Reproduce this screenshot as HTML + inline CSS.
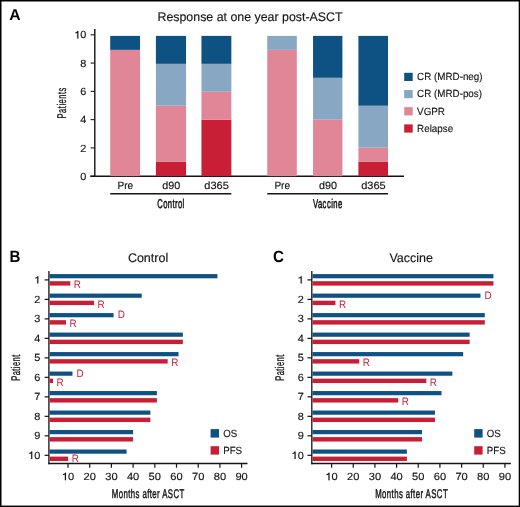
<!DOCTYPE html>
<html><head><meta charset="utf-8"><title>Response</title>
<style>
html,body{margin:0;padding:0;background:#fff;}
body{width:520px;height:507px;overflow:hidden;}
svg{display:block;will-change:transform;}
text{font-family:"Liberation Sans", sans-serif;text-rendering:geometricPrecision;}
</style></head><body>
<svg width="520" height="507" viewBox="0 0 520 507">
<rect x="0.00" y="0.00" width="520.00" height="1.50" fill="#000"/>
<rect x="0.00" y="0.00" width="1.50" height="507.00" fill="#000"/>
<rect x="518.70" y="0.00" width="1.30" height="507.00" fill="#000"/>
<rect x="0.00" y="505.60" width="520.00" height="1.40" fill="#000"/>
<text x="9.3" y="20.2" font-size="15.8" text-anchor="start" fill="#000" font-weight="bold">A</text>
<text x="0" y="0" font-size="12.5" text-anchor="middle" fill="#161415" font-weight="normal" transform="translate(250.0,20.6) scale(0.99,1)" stroke="#161415" stroke-width="0.15">Response at one year post-ASCT</text>
<line x1="94.80" y1="29.00" x2="94.80" y2="176.60" stroke="#161415" stroke-width="1.4"/>
<line x1="90.60" y1="176.20" x2="94.80" y2="176.20" stroke="#161415" stroke-width="1.05"/>
<text x="0" y="0" font-size="10.4" text-anchor="start" fill="#161415" font-weight="normal" transform="translate(80.33,179.79999999999998) scale(1.05,1)" stroke="#161415" stroke-width="0.15">0</text>
<line x1="90.60" y1="147.92" x2="94.80" y2="147.92" stroke="#161415" stroke-width="1.05"/>
<text x="0" y="0" font-size="10.4" text-anchor="start" fill="#161415" font-weight="normal" transform="translate(80.33,151.51999999999998) scale(1.05,1)" stroke="#161415" stroke-width="0.15">2</text>
<line x1="90.60" y1="119.64" x2="94.80" y2="119.64" stroke="#161415" stroke-width="1.05"/>
<text x="0" y="0" font-size="10.4" text-anchor="start" fill="#161415" font-weight="normal" transform="translate(80.33,123.23999999999998) scale(1.05,1)" stroke="#161415" stroke-width="0.15">4</text>
<line x1="90.60" y1="91.36" x2="94.80" y2="91.36" stroke="#161415" stroke-width="1.05"/>
<text x="0" y="0" font-size="10.4" text-anchor="start" fill="#161415" font-weight="normal" transform="translate(80.33,94.95999999999998) scale(1.05,1)" stroke="#161415" stroke-width="0.15">6</text>
<line x1="90.60" y1="63.08" x2="94.80" y2="63.08" stroke="#161415" stroke-width="1.05"/>
<text x="0" y="0" font-size="10.4" text-anchor="start" fill="#161415" font-weight="normal" transform="translate(80.33,66.67999999999998) scale(1.05,1)" stroke="#161415" stroke-width="0.15">8</text>
<line x1="90.60" y1="34.80" x2="94.80" y2="34.80" stroke="#161415" stroke-width="1.05"/>
<path transform="translate(74.26,38.40) scale(10.920,-10.400)" d="M0.375,0.709 L0.288,0.709 C0.262,0.628 0.195,0.585 0.100,0.578 L0.100,0.492 C0.180,0.498 0.235,0.518 0.275,0.552 L0.275,0 L0.375,0 Z" fill="#161415" stroke="#161415" stroke-width="0.0144"/>
<text x="0" y="0" font-size="10.4" text-anchor="start" fill="#161415" font-weight="normal" transform="translate(80.33,38.399999999999984) scale(1.05,1)" stroke="#161415" stroke-width="0.15">0</text>
<line x1="90.30" y1="176.30" x2="404.00" y2="176.30" stroke="#161314" stroke-width="1.4"/>
<rect x="110.20" y="49.86" width="29.85" height="126.29" fill="#e18697"/>
<rect x="110.20" y="35.89" width="29.85" height="13.97" fill="#0e5183"/>
<rect x="155.90" y="161.58" width="30.15" height="14.57" fill="#c81e36"/>
<rect x="155.90" y="105.72" width="30.15" height="55.86" fill="#e18697"/>
<rect x="155.90" y="63.82" width="30.15" height="41.90" fill="#87a7c2"/>
<rect x="155.90" y="35.89" width="30.15" height="27.93" fill="#0e5183"/>
<rect x="201.45" y="119.69" width="29.90" height="56.46" fill="#c81e36"/>
<rect x="201.45" y="91.75" width="29.90" height="27.93" fill="#e18697"/>
<rect x="201.45" y="63.82" width="29.90" height="27.93" fill="#87a7c2"/>
<rect x="201.45" y="35.89" width="29.90" height="27.93" fill="#0e5183"/>
<rect x="267.25" y="49.86" width="29.55" height="126.29" fill="#e18697"/>
<rect x="267.25" y="35.89" width="29.55" height="13.97" fill="#87a7c2"/>
<rect x="313.05" y="119.69" width="29.35" height="56.46" fill="#e18697"/>
<rect x="313.05" y="77.79" width="29.35" height="41.90" fill="#87a7c2"/>
<rect x="313.05" y="35.89" width="29.35" height="41.90" fill="#0e5183"/>
<rect x="358.40" y="161.58" width="29.60" height="14.57" fill="#c81e36"/>
<rect x="358.40" y="147.62" width="29.60" height="13.97" fill="#e18697"/>
<rect x="358.40" y="105.72" width="29.60" height="41.90" fill="#87a7c2"/>
<rect x="358.40" y="35.89" width="29.60" height="69.83" fill="#0e5183"/>
<text x="0" y="0" font-size="10.5" text-anchor="middle" fill="#161415" font-weight="normal" transform="translate(125.325,188.7) scale(0.96,1)" stroke="#161415" stroke-width="0.15">Pre</text>
<text x="0" y="0" font-size="10.5" text-anchor="middle" fill="#161415" font-weight="normal" transform="translate(171.175,188.7) scale(1.03,1)" stroke="#161415" stroke-width="0.15">d90</text>
<text x="0" y="0" font-size="10.5" text-anchor="middle" fill="#161415" font-weight="normal" transform="translate(216.59999999999997,188.7) scale(1.05,1)" stroke="#161415" stroke-width="0.15">d365</text>
<text x="0" y="0" font-size="10.5" text-anchor="middle" fill="#161415" font-weight="normal" transform="translate(282.22499999999997,188.7) scale(0.96,1)" stroke="#161415" stroke-width="0.15">Pre</text>
<text x="0" y="0" font-size="10.5" text-anchor="middle" fill="#161415" font-weight="normal" transform="translate(327.925,188.7) scale(1.03,1)" stroke="#161415" stroke-width="0.15">d90</text>
<text x="0" y="0" font-size="10.5" text-anchor="middle" fill="#161415" font-weight="normal" transform="translate(373.4,188.7) scale(1.05,1)" stroke="#161415" stroke-width="0.15">d365</text>
<line x1="110.20" y1="193.80" x2="231.35" y2="193.80" stroke="#161415" stroke-width="1.4"/>
<line x1="267.25" y1="193.80" x2="388.00" y2="193.80" stroke="#161415" stroke-width="1.4"/>
<text x="0" y="0" font-size="12.8" text-anchor="middle" fill="#161415" font-weight="normal" transform="translate(170.975,207.9) scale(0.6,1)" stroke="#161415" stroke-width="0.55" letter-spacing="0.62">Control</text>
<text x="0" y="0" font-size="12.8" text-anchor="middle" fill="#161415" font-weight="normal" transform="translate(327.825,208.1) scale(0.6,1)" stroke="#161415" stroke-width="0.55" letter-spacing="0.72">Vaccine</text>
<text x="0" y="0" font-size="12.6" text-anchor="middle" fill="#161415" font-weight="normal" transform="translate(66.2,102.80000000000001) rotate(-90) scale(0.6,1)" stroke="#161415" stroke-width="0.3" letter-spacing="0.83">Patients</text>
<rect x="404.20" y="72.80" width="8.50" height="8.20" fill="#0e5183"/>
<text x="0" y="0" font-size="10.4" text-anchor="start" fill="#161415" font-weight="normal" transform="translate(417.1,80.14999999999999) scale(0.945,1)" stroke="#161415" stroke-width="0.15">CR (MRD-neg)</text>
<rect x="404.20" y="90.00" width="8.50" height="8.20" fill="#87a7c2"/>
<text x="0" y="0" font-size="10.4" text-anchor="start" fill="#161415" font-weight="normal" transform="translate(417.1,97.35) scale(0.945,1)" stroke="#161415" stroke-width="0.15">CR (MRD-pos)</text>
<rect x="404.20" y="107.20" width="8.50" height="8.20" fill="#e18697"/>
<text x="0" y="0" font-size="10.4" text-anchor="start" fill="#161415" font-weight="normal" transform="translate(417.1,114.54999999999998) scale(0.945,1)" stroke="#161415" stroke-width="0.15">VGPR</text>
<rect x="404.20" y="124.40" width="8.50" height="8.20" fill="#c81e36"/>
<text x="0" y="0" font-size="10.4" text-anchor="start" fill="#161415" font-weight="normal" transform="translate(417.1,131.75) scale(0.945,1)" stroke="#161415" stroke-width="0.15">Relapse</text>
<text x="0" y="0" font-size="16.3" text-anchor="start" fill="#000" font-weight="bold" transform="translate(9.4,261.6) scale(0.93,1)">B</text>
<text x="148.05" y="261.9" font-size="12.5" text-anchor="middle" fill="#161415" font-weight="normal" stroke="#161415" stroke-width="0.15">Control</text>
<line x1="48.90" y1="271.10" x2="48.90" y2="464.20" stroke="#161415" stroke-width="1.3"/>
<line x1="48.30" y1="463.50" x2="247.50" y2="463.50" stroke="#161415" stroke-width="1.4"/>
<line x1="44.60" y1="279.90" x2="48.90" y2="279.90" stroke="#161415" stroke-width="1.2"/>
<path transform="translate(34.23,283.50) scale(10.920,-10.400)" d="M0.375,0.709 L0.288,0.709 C0.262,0.628 0.195,0.585 0.100,0.578 L0.100,0.492 C0.180,0.498 0.235,0.518 0.275,0.552 L0.275,0 L0.375,0 Z" fill="#161415" stroke="#161415" stroke-width="0.0144"/>
<line x1="44.60" y1="299.39" x2="48.90" y2="299.39" stroke="#161415" stroke-width="1.2"/>
<text x="0" y="0" font-size="10.4" text-anchor="start" fill="#161415" font-weight="normal" transform="translate(34.23,302.99) scale(1.05,1)" stroke="#161415" stroke-width="0.15">2</text>
<line x1="44.60" y1="318.88" x2="48.90" y2="318.88" stroke="#161415" stroke-width="1.2"/>
<text x="0" y="0" font-size="10.4" text-anchor="start" fill="#161415" font-weight="normal" transform="translate(34.23,322.48) scale(1.05,1)" stroke="#161415" stroke-width="0.15">3</text>
<line x1="44.60" y1="338.37" x2="48.90" y2="338.37" stroke="#161415" stroke-width="1.2"/>
<text x="0" y="0" font-size="10.4" text-anchor="start" fill="#161415" font-weight="normal" transform="translate(34.23,341.97) scale(1.05,1)" stroke="#161415" stroke-width="0.15">4</text>
<line x1="44.60" y1="357.86" x2="48.90" y2="357.86" stroke="#161415" stroke-width="1.2"/>
<text x="0" y="0" font-size="10.4" text-anchor="start" fill="#161415" font-weight="normal" transform="translate(34.23,361.46) scale(1.05,1)" stroke="#161415" stroke-width="0.15">5</text>
<line x1="44.60" y1="377.35" x2="48.90" y2="377.35" stroke="#161415" stroke-width="1.2"/>
<text x="0" y="0" font-size="10.4" text-anchor="start" fill="#161415" font-weight="normal" transform="translate(34.23,380.95) scale(1.05,1)" stroke="#161415" stroke-width="0.15">6</text>
<line x1="44.60" y1="396.84" x2="48.90" y2="396.84" stroke="#161415" stroke-width="1.2"/>
<text x="0" y="0" font-size="10.4" text-anchor="start" fill="#161415" font-weight="normal" transform="translate(34.23,400.44) scale(1.05,1)" stroke="#161415" stroke-width="0.15">7</text>
<line x1="44.60" y1="416.33" x2="48.90" y2="416.33" stroke="#161415" stroke-width="1.2"/>
<text x="0" y="0" font-size="10.4" text-anchor="start" fill="#161415" font-weight="normal" transform="translate(34.23,419.92999999999995) scale(1.05,1)" stroke="#161415" stroke-width="0.15">8</text>
<line x1="44.60" y1="435.82" x2="48.90" y2="435.82" stroke="#161415" stroke-width="1.2"/>
<text x="0" y="0" font-size="10.4" text-anchor="start" fill="#161415" font-weight="normal" transform="translate(34.23,439.41999999999996) scale(1.05,1)" stroke="#161415" stroke-width="0.15">9</text>
<line x1="44.60" y1="455.31" x2="48.90" y2="455.31" stroke="#161415" stroke-width="1.2"/>
<path transform="translate(28.16,458.91) scale(10.920,-10.400)" d="M0.375,0.709 L0.288,0.709 C0.262,0.628 0.195,0.585 0.100,0.578 L0.100,0.492 C0.180,0.498 0.235,0.518 0.275,0.552 L0.275,0 L0.375,0 Z" fill="#161415" stroke="#161415" stroke-width="0.0144"/>
<text x="0" y="0" font-size="10.4" text-anchor="start" fill="#161415" font-weight="normal" transform="translate(34.23,458.90999999999997) scale(1.05,1)" stroke="#161415" stroke-width="0.15">0</text>
<line x1="68.00" y1="463.50" x2="68.00" y2="467.70" stroke="#161415" stroke-width="1.2"/>
<path transform="translate(61.81,480.20) scale(11.128,-10.400)" d="M0.375,0.709 L0.288,0.709 C0.262,0.628 0.195,0.585 0.100,0.578 L0.100,0.492 C0.180,0.498 0.235,0.518 0.275,0.552 L0.275,0 L0.375,0 Z" fill="#161415" stroke="#161415" stroke-width="0.0144"/>
<text x="0" y="0" font-size="10.4" text-anchor="start" fill="#161415" font-weight="normal" transform="translate(68.0,480.2) scale(1.07,1)" stroke="#161415" stroke-width="0.15">0</text>
<line x1="89.70" y1="463.50" x2="89.70" y2="467.70" stroke="#161415" stroke-width="1.2"/>
<text x="0" y="0" font-size="10.4" text-anchor="start" fill="#161415" font-weight="normal" transform="translate(83.51,480.2) scale(1.07,1)" stroke="#161415" stroke-width="0.15">2</text>
<text x="0" y="0" font-size="10.4" text-anchor="start" fill="#161415" font-weight="normal" transform="translate(89.7,480.2) scale(1.07,1)" stroke="#161415" stroke-width="0.15">0</text>
<line x1="111.40" y1="463.50" x2="111.40" y2="467.70" stroke="#161415" stroke-width="1.2"/>
<text x="0" y="0" font-size="10.4" text-anchor="start" fill="#161415" font-weight="normal" transform="translate(105.21,480.2) scale(1.07,1)" stroke="#161415" stroke-width="0.15">3</text>
<text x="0" y="0" font-size="10.4" text-anchor="start" fill="#161415" font-weight="normal" transform="translate(111.4,480.2) scale(1.07,1)" stroke="#161415" stroke-width="0.15">0</text>
<line x1="133.10" y1="463.50" x2="133.10" y2="467.70" stroke="#161415" stroke-width="1.2"/>
<text x="0" y="0" font-size="10.4" text-anchor="start" fill="#161415" font-weight="normal" transform="translate(126.91,480.2) scale(1.07,1)" stroke="#161415" stroke-width="0.15">4</text>
<text x="0" y="0" font-size="10.4" text-anchor="start" fill="#161415" font-weight="normal" transform="translate(133.1,480.2) scale(1.07,1)" stroke="#161415" stroke-width="0.15">0</text>
<line x1="154.80" y1="463.50" x2="154.80" y2="467.70" stroke="#161415" stroke-width="1.2"/>
<text x="0" y="0" font-size="10.4" text-anchor="start" fill="#161415" font-weight="normal" transform="translate(148.61,480.2) scale(1.07,1)" stroke="#161415" stroke-width="0.15">5</text>
<text x="0" y="0" font-size="10.4" text-anchor="start" fill="#161415" font-weight="normal" transform="translate(154.8,480.2) scale(1.07,1)" stroke="#161415" stroke-width="0.15">0</text>
<line x1="176.50" y1="463.50" x2="176.50" y2="467.70" stroke="#161415" stroke-width="1.2"/>
<text x="0" y="0" font-size="10.4" text-anchor="start" fill="#161415" font-weight="normal" transform="translate(170.31,480.2) scale(1.07,1)" stroke="#161415" stroke-width="0.15">6</text>
<text x="0" y="0" font-size="10.4" text-anchor="start" fill="#161415" font-weight="normal" transform="translate(176.5,480.2) scale(1.07,1)" stroke="#161415" stroke-width="0.15">0</text>
<line x1="198.20" y1="463.50" x2="198.20" y2="467.70" stroke="#161415" stroke-width="1.2"/>
<text x="0" y="0" font-size="10.4" text-anchor="start" fill="#161415" font-weight="normal" transform="translate(192.01,480.2) scale(1.07,1)" stroke="#161415" stroke-width="0.15">7</text>
<text x="0" y="0" font-size="10.4" text-anchor="start" fill="#161415" font-weight="normal" transform="translate(198.2,480.2) scale(1.07,1)" stroke="#161415" stroke-width="0.15">0</text>
<line x1="219.90" y1="463.50" x2="219.90" y2="467.70" stroke="#161415" stroke-width="1.2"/>
<text x="0" y="0" font-size="10.4" text-anchor="start" fill="#161415" font-weight="normal" transform="translate(213.71,480.2) scale(1.07,1)" stroke="#161415" stroke-width="0.15">8</text>
<text x="0" y="0" font-size="10.4" text-anchor="start" fill="#161415" font-weight="normal" transform="translate(219.9,480.2) scale(1.07,1)" stroke="#161415" stroke-width="0.15">0</text>
<line x1="241.60" y1="463.50" x2="241.60" y2="467.70" stroke="#161415" stroke-width="1.2"/>
<text x="0" y="0" font-size="10.4" text-anchor="start" fill="#161415" font-weight="normal" transform="translate(235.41,480.2) scale(1.07,1)" stroke="#161415" stroke-width="0.15">9</text>
<text x="0" y="0" font-size="10.4" text-anchor="start" fill="#161415" font-weight="normal" transform="translate(241.6,480.2) scale(1.07,1)" stroke="#161415" stroke-width="0.15">0</text>
<text x="0" y="0" font-size="12.6" text-anchor="middle" fill="#161415" font-weight="normal" transform="translate(148.2,497.6) scale(0.62,1)" stroke="#161415" stroke-width="0.45" letter-spacing="0.66">Months after ASCT</text>
<text x="0" y="0" font-size="12.6" text-anchor="middle" fill="#161415" font-weight="normal" transform="translate(20.1,367.5) rotate(-90) scale(0.6,1)" stroke="#161415" stroke-width="0.3" letter-spacing="0.71">Patient</text>
<rect x="49.50" y="274.10" width="167.95" height="4.20" fill="#0e5183"/>
<rect x="49.50" y="281.20" width="20.82" height="4.40" fill="#c81e36"/>
<text x="0" y="0" font-size="10.8" text-anchor="start" fill="#c81e36" font-weight="normal" transform="translate(73.8207,288.4) scale(0.92,1)" stroke="none">R</text>
<rect x="49.50" y="293.59" width="92.22" height="4.20" fill="#0e5183"/>
<rect x="49.50" y="300.69" width="44.62" height="4.40" fill="#c81e36"/>
<text x="0" y="0" font-size="10.8" text-anchor="start" fill="#c81e36" font-weight="normal" transform="translate(97.6214,307.89) scale(0.92,1)" stroke="none">R</text>
<rect x="49.50" y="313.08" width="64.09" height="4.20" fill="#0e5183"/>
<rect x="49.50" y="320.18" width="16.49" height="4.40" fill="#c81e36"/>
<text x="0" y="0" font-size="10.8" text-anchor="start" fill="#c81e36" font-weight="normal" transform="translate(117.69469999999998,318.28) scale(0.92,1)" stroke="none">D</text>
<text x="0" y="0" font-size="10.8" text-anchor="start" fill="#c81e36" font-weight="normal" transform="translate(69.4933,327.38) scale(0.92,1)" stroke="none">R</text>
<rect x="49.50" y="332.57" width="133.33" height="4.20" fill="#0e5183"/>
<rect x="49.50" y="339.67" width="133.33" height="4.40" fill="#c81e36"/>
<rect x="49.50" y="352.06" width="129.01" height="4.20" fill="#0e5183"/>
<rect x="49.50" y="359.16" width="118.19" height="4.40" fill="#c81e36"/>
<text x="0" y="0" font-size="10.8" text-anchor="start" fill="#c81e36" font-weight="normal" transform="translate(171.1872,366.35999999999996) scale(0.92,1)" stroke="none">R</text>
<rect x="49.50" y="371.55" width="22.98" height="4.20" fill="#0e5183"/>
<rect x="49.50" y="378.65" width="3.51" height="4.40" fill="#c81e36"/>
<text x="0" y="0" font-size="10.8" text-anchor="start" fill="#c81e36" font-weight="normal" transform="translate(76.58439999999999,376.74999999999994) scale(0.92,1)" stroke="none">D</text>
<text x="0" y="0" font-size="10.8" text-anchor="start" fill="#c81e36" font-weight="normal" transform="translate(56.5111,385.84999999999997) scale(0.92,1)" stroke="none">R</text>
<rect x="49.50" y="391.04" width="107.37" height="4.20" fill="#0e5183"/>
<rect x="49.50" y="398.14" width="107.37" height="4.40" fill="#c81e36"/>
<rect x="49.50" y="410.53" width="100.88" height="4.20" fill="#0e5183"/>
<rect x="49.50" y="417.63" width="100.88" height="4.40" fill="#c81e36"/>
<rect x="49.50" y="430.02" width="83.57" height="4.20" fill="#0e5183"/>
<rect x="49.50" y="437.12" width="83.57" height="4.40" fill="#c81e36"/>
<rect x="49.50" y="449.51" width="77.08" height="4.20" fill="#0e5183"/>
<rect x="49.50" y="456.61" width="18.66" height="4.40" fill="#c81e36"/>
<text x="0" y="0" font-size="10.8" text-anchor="start" fill="#c81e36" font-weight="normal" transform="translate(71.65700000000001,462.30999999999995) scale(0.92,1)" stroke="none">R</text>
<rect x="210.60" y="429.10" width="8.40" height="8.50" fill="#0e5183"/>
<text x="0" y="0" font-size="10.4" text-anchor="start" fill="#161415" font-weight="normal" transform="translate(223.2,436.8) scale(0.93,1)" stroke="#161415" stroke-width="0.15">OS</text>
<rect x="210.60" y="446.20" width="8.40" height="8.40" fill="#c81e36"/>
<text x="0" y="0" font-size="10.4" text-anchor="start" fill="#161415" font-weight="normal" transform="translate(223.2,454.1) scale(0.93,1)" stroke="#161415" stroke-width="0.15">PFS</text>
<text x="0" y="0" font-size="16.3" text-anchor="start" fill="#000" font-weight="bold" transform="translate(272.9,261.6) scale(0.93,1)">C</text>
<text x="411.15" y="261.9" font-size="12.5" text-anchor="middle" fill="#161415" font-weight="normal" stroke="#161415" stroke-width="0.15">Vaccine</text>
<line x1="311.80" y1="271.10" x2="311.80" y2="464.20" stroke="#161415" stroke-width="1.3"/>
<line x1="311.20" y1="463.50" x2="510.90" y2="463.50" stroke="#161415" stroke-width="1.4"/>
<line x1="307.50" y1="279.90" x2="311.80" y2="279.90" stroke="#161415" stroke-width="1.2"/>
<path transform="translate(297.63,283.50) scale(10.920,-10.400)" d="M0.375,0.709 L0.288,0.709 C0.262,0.628 0.195,0.585 0.100,0.578 L0.100,0.492 C0.180,0.498 0.235,0.518 0.275,0.552 L0.275,0 L0.375,0 Z" fill="#161415" stroke="#161415" stroke-width="0.0144"/>
<line x1="307.50" y1="299.39" x2="311.80" y2="299.39" stroke="#161415" stroke-width="1.2"/>
<text x="0" y="0" font-size="10.4" text-anchor="start" fill="#161415" font-weight="normal" transform="translate(297.63,302.99) scale(1.05,1)" stroke="#161415" stroke-width="0.15">2</text>
<line x1="307.50" y1="318.88" x2="311.80" y2="318.88" stroke="#161415" stroke-width="1.2"/>
<text x="0" y="0" font-size="10.4" text-anchor="start" fill="#161415" font-weight="normal" transform="translate(297.63,322.48) scale(1.05,1)" stroke="#161415" stroke-width="0.15">3</text>
<line x1="307.50" y1="338.37" x2="311.80" y2="338.37" stroke="#161415" stroke-width="1.2"/>
<text x="0" y="0" font-size="10.4" text-anchor="start" fill="#161415" font-weight="normal" transform="translate(297.63,341.97) scale(1.05,1)" stroke="#161415" stroke-width="0.15">4</text>
<line x1="307.50" y1="357.86" x2="311.80" y2="357.86" stroke="#161415" stroke-width="1.2"/>
<text x="0" y="0" font-size="10.4" text-anchor="start" fill="#161415" font-weight="normal" transform="translate(297.63,361.46) scale(1.05,1)" stroke="#161415" stroke-width="0.15">5</text>
<line x1="307.50" y1="377.35" x2="311.80" y2="377.35" stroke="#161415" stroke-width="1.2"/>
<text x="0" y="0" font-size="10.4" text-anchor="start" fill="#161415" font-weight="normal" transform="translate(297.63,380.95) scale(1.05,1)" stroke="#161415" stroke-width="0.15">6</text>
<line x1="307.50" y1="396.84" x2="311.80" y2="396.84" stroke="#161415" stroke-width="1.2"/>
<text x="0" y="0" font-size="10.4" text-anchor="start" fill="#161415" font-weight="normal" transform="translate(297.63,400.44) scale(1.05,1)" stroke="#161415" stroke-width="0.15">7</text>
<line x1="307.50" y1="416.33" x2="311.80" y2="416.33" stroke="#161415" stroke-width="1.2"/>
<text x="0" y="0" font-size="10.4" text-anchor="start" fill="#161415" font-weight="normal" transform="translate(297.63,419.92999999999995) scale(1.05,1)" stroke="#161415" stroke-width="0.15">8</text>
<line x1="307.50" y1="435.82" x2="311.80" y2="435.82" stroke="#161415" stroke-width="1.2"/>
<text x="0" y="0" font-size="10.4" text-anchor="start" fill="#161415" font-weight="normal" transform="translate(297.63,439.41999999999996) scale(1.05,1)" stroke="#161415" stroke-width="0.15">9</text>
<line x1="307.50" y1="455.31" x2="311.80" y2="455.31" stroke="#161415" stroke-width="1.2"/>
<path transform="translate(291.56,458.91) scale(10.920,-10.400)" d="M0.375,0.709 L0.288,0.709 C0.262,0.628 0.195,0.585 0.100,0.578 L0.100,0.492 C0.180,0.498 0.235,0.518 0.275,0.552 L0.275,0 L0.375,0 Z" fill="#161415" stroke="#161415" stroke-width="0.0144"/>
<text x="0" y="0" font-size="10.4" text-anchor="start" fill="#161415" font-weight="normal" transform="translate(297.63,458.90999999999997) scale(1.05,1)" stroke="#161415" stroke-width="0.15">0</text>
<line x1="331.57" y1="463.50" x2="331.57" y2="467.70" stroke="#161415" stroke-width="1.2"/>
<path transform="translate(325.38,480.20) scale(11.128,-10.400)" d="M0.375,0.709 L0.288,0.709 C0.262,0.628 0.195,0.585 0.100,0.578 L0.100,0.492 C0.180,0.498 0.235,0.518 0.275,0.552 L0.275,0 L0.375,0 Z" fill="#161415" stroke="#161415" stroke-width="0.0144"/>
<text x="0" y="0" font-size="10.4" text-anchor="start" fill="#161415" font-weight="normal" transform="translate(331.57,480.2) scale(1.07,1)" stroke="#161415" stroke-width="0.15">0</text>
<line x1="353.24" y1="463.50" x2="353.24" y2="467.70" stroke="#161415" stroke-width="1.2"/>
<text x="0" y="0" font-size="10.4" text-anchor="start" fill="#161415" font-weight="normal" transform="translate(347.05,480.2) scale(1.07,1)" stroke="#161415" stroke-width="0.15">2</text>
<text x="0" y="0" font-size="10.4" text-anchor="start" fill="#161415" font-weight="normal" transform="translate(353.24,480.2) scale(1.07,1)" stroke="#161415" stroke-width="0.15">0</text>
<line x1="374.91" y1="463.50" x2="374.91" y2="467.70" stroke="#161415" stroke-width="1.2"/>
<text x="0" y="0" font-size="10.4" text-anchor="start" fill="#161415" font-weight="normal" transform="translate(368.72,480.2) scale(1.07,1)" stroke="#161415" stroke-width="0.15">3</text>
<text x="0" y="0" font-size="10.4" text-anchor="start" fill="#161415" font-weight="normal" transform="translate(374.91,480.2) scale(1.07,1)" stroke="#161415" stroke-width="0.15">0</text>
<line x1="396.58" y1="463.50" x2="396.58" y2="467.70" stroke="#161415" stroke-width="1.2"/>
<text x="0" y="0" font-size="10.4" text-anchor="start" fill="#161415" font-weight="normal" transform="translate(390.39,480.2) scale(1.07,1)" stroke="#161415" stroke-width="0.15">4</text>
<text x="0" y="0" font-size="10.4" text-anchor="start" fill="#161415" font-weight="normal" transform="translate(396.58,480.2) scale(1.07,1)" stroke="#161415" stroke-width="0.15">0</text>
<line x1="418.25" y1="463.50" x2="418.25" y2="467.70" stroke="#161415" stroke-width="1.2"/>
<text x="0" y="0" font-size="10.4" text-anchor="start" fill="#161415" font-weight="normal" transform="translate(412.06,480.2) scale(1.07,1)" stroke="#161415" stroke-width="0.15">5</text>
<text x="0" y="0" font-size="10.4" text-anchor="start" fill="#161415" font-weight="normal" transform="translate(418.25,480.2) scale(1.07,1)" stroke="#161415" stroke-width="0.15">0</text>
<line x1="439.92" y1="463.50" x2="439.92" y2="467.70" stroke="#161415" stroke-width="1.2"/>
<text x="0" y="0" font-size="10.4" text-anchor="start" fill="#161415" font-weight="normal" transform="translate(433.73,480.2) scale(1.07,1)" stroke="#161415" stroke-width="0.15">6</text>
<text x="0" y="0" font-size="10.4" text-anchor="start" fill="#161415" font-weight="normal" transform="translate(439.92,480.2) scale(1.07,1)" stroke="#161415" stroke-width="0.15">0</text>
<line x1="461.59" y1="463.50" x2="461.59" y2="467.70" stroke="#161415" stroke-width="1.2"/>
<text x="0" y="0" font-size="10.4" text-anchor="start" fill="#161415" font-weight="normal" transform="translate(455.4,480.2) scale(1.07,1)" stroke="#161415" stroke-width="0.15">7</text>
<text x="0" y="0" font-size="10.4" text-anchor="start" fill="#161415" font-weight="normal" transform="translate(461.59,480.2) scale(1.07,1)" stroke="#161415" stroke-width="0.15">0</text>
<line x1="483.26" y1="463.50" x2="483.26" y2="467.70" stroke="#161415" stroke-width="1.2"/>
<text x="0" y="0" font-size="10.4" text-anchor="start" fill="#161415" font-weight="normal" transform="translate(477.07,480.2) scale(1.07,1)" stroke="#161415" stroke-width="0.15">8</text>
<text x="0" y="0" font-size="10.4" text-anchor="start" fill="#161415" font-weight="normal" transform="translate(483.26,480.2) scale(1.07,1)" stroke="#161415" stroke-width="0.15">0</text>
<line x1="504.93" y1="463.50" x2="504.93" y2="467.70" stroke="#161415" stroke-width="1.2"/>
<text x="0" y="0" font-size="10.4" text-anchor="start" fill="#161415" font-weight="normal" transform="translate(498.74,480.2) scale(1.07,1)" stroke="#161415" stroke-width="0.15">9</text>
<text x="0" y="0" font-size="10.4" text-anchor="start" fill="#161415" font-weight="normal" transform="translate(504.93,480.2) scale(1.07,1)" stroke="#161415" stroke-width="0.15">0</text>
<text x="0" y="0" font-size="12.6" text-anchor="middle" fill="#161415" font-weight="normal" transform="translate(411.59999999999997,497.6) scale(0.62,1)" stroke="#161415" stroke-width="0.45" letter-spacing="0.66">Months after ASCT</text>
<text x="0" y="0" font-size="12.6" text-anchor="middle" fill="#161415" font-weight="normal" transform="translate(283.5,367.5) rotate(-90) scale(0.6,1)" stroke="#161415" stroke-width="0.3" letter-spacing="0.71">Patient</text>
<rect x="312.40" y="274.10" width="181.05" height="4.20" fill="#0e5183"/>
<rect x="312.40" y="281.20" width="181.05" height="4.40" fill="#c81e36"/>
<rect x="312.40" y="293.59" width="168.06" height="4.20" fill="#0e5183"/>
<rect x="312.40" y="300.69" width="23.03" height="4.40" fill="#c81e36"/>
<text x="0" y="0" font-size="10.8" text-anchor="start" fill="#c81e36" font-weight="normal" transform="translate(484.56129999999996,298.78999999999996) scale(0.92,1)" stroke="none">D</text>
<text x="0" y="0" font-size="10.8" text-anchor="start" fill="#c81e36" font-weight="normal" transform="translate(338.9264,307.89) scale(0.92,1)" stroke="none">R</text>
<rect x="312.40" y="313.08" width="172.39" height="4.20" fill="#0e5183"/>
<rect x="312.40" y="320.18" width="172.39" height="4.40" fill="#c81e36"/>
<rect x="312.40" y="332.57" width="157.24" height="4.20" fill="#0e5183"/>
<rect x="312.40" y="339.67" width="157.24" height="4.40" fill="#c81e36"/>
<rect x="312.40" y="352.06" width="150.74" height="4.20" fill="#0e5183"/>
<rect x="312.40" y="359.16" width="46.84" height="4.40" fill="#c81e36"/>
<text x="0" y="0" font-size="10.8" text-anchor="start" fill="#c81e36" font-weight="normal" transform="translate(362.7381,366.35999999999996) scale(0.92,1)" stroke="none">R</text>
<rect x="312.40" y="371.55" width="139.92" height="4.20" fill="#0e5183"/>
<rect x="312.40" y="378.65" width="113.94" height="4.40" fill="#c81e36"/>
<text x="0" y="0" font-size="10.8" text-anchor="start" fill="#c81e36" font-weight="normal" transform="translate(429.8438,385.84999999999997) scale(0.92,1)" stroke="none">R</text>
<rect x="312.40" y="391.04" width="129.10" height="4.20" fill="#0e5183"/>
<rect x="312.40" y="398.14" width="85.80" height="4.40" fill="#c81e36"/>
<text x="0" y="0" font-size="10.8" text-anchor="start" fill="#c81e36" font-weight="normal" transform="translate(401.7027,405.34) scale(0.92,1)" stroke="none">R</text>
<rect x="312.40" y="410.53" width="122.60" height="4.20" fill="#0e5183"/>
<rect x="312.40" y="417.63" width="122.60" height="4.40" fill="#c81e36"/>
<rect x="312.40" y="430.02" width="109.61" height="4.20" fill="#0e5183"/>
<rect x="312.40" y="437.12" width="109.61" height="4.40" fill="#c81e36"/>
<rect x="312.40" y="449.51" width="94.46" height="4.20" fill="#0e5183"/>
<rect x="312.40" y="456.61" width="94.46" height="4.40" fill="#c81e36"/>
<rect x="474.20" y="429.10" width="8.40" height="8.50" fill="#0e5183"/>
<text x="0" y="0" font-size="10.4" text-anchor="start" fill="#161415" font-weight="normal" transform="translate(486.8,436.8) scale(0.93,1)" stroke="#161415" stroke-width="0.15">OS</text>
<rect x="474.20" y="446.20" width="8.40" height="8.40" fill="#c81e36"/>
<text x="0" y="0" font-size="10.4" text-anchor="start" fill="#161415" font-weight="normal" transform="translate(486.8,454.1) scale(0.93,1)" stroke="#161415" stroke-width="0.15">PFS</text>
</svg>
</body></html>
